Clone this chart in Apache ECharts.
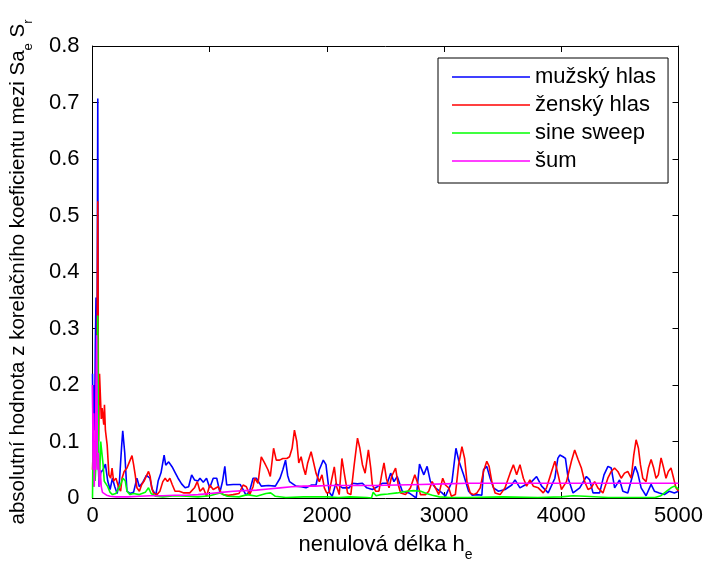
<!DOCTYPE html>
<html><head><meta charset="utf-8">
<script src="https://cdn.jsdelivr.net/npm/echarts@6/dist/echarts.min.js"></script>
<style>html,body{margin:0;padding:0;background:#fff}#c{width:706px;height:567px}</style>
</head><body><div id="c"></div>
<script>
const seriesNames = ['mužský hlas', 'ženský hlas', 'sine sweep', 'šum'];
const xTicks = [0, 1000, 2000, 3000, 4000, 5000];
const yTicks = [0, 0.1, 0.2, 0.3, 0.4, 0.5, 0.6, 0.7, 0.8];

const male = [[0,0.22],[6,0.06],[12,0.2],[18,0.12],[24,0.27],[30,0.355],[36,0.08],[45,0.707],[50,0.06],[56,0.02],[70,0.045],[90,0.05],[110,0.06],[130,0.03],[150,0.015],[170,0.035],[190,0.02],[210,0.008],[230,0.03],[248,0.09],[258,0.119],[275,0.08],[294,0.012],[320,0.008],[350,0.01],[379,0.035],[400,0.02],[430,0.028],[460,0.04],[490,0.035],[510,0.015],[540,0.005],[560,0.03],[585,0.045],[611,0.076],[625,0.058],[650,0.064],[680,0.055],[705,0.045],[730,0.035],[760,0.025],[790,0.018],[820,0.02],[846,0.041],[870,0.032],[900,0.03],[917,0.035],[945,0.028],[973,0.035],[1000,0.018],[1030,0.035],[1060,0.035],[1087,0.01],[1110,0.03],[1129,0.056],[1145,0.023],[1200,0.024],[1260,0.024],[1285,0.015],[1310,0.005],[1340,0.012],[1370,0.035],[1398,0.035],[1440,0.021],[1500,0.022],[1560,0.021],[1600,0.035],[1624,0.05],[1647,0.067],[1665,0.04],[1681,0.029],[1737,0.021],[1780,0.02],[1822,0.018],[1870,0.023],[1907,0.023],[1935,0.05],[1969,0.067],[1992,0.059],[2020,0.01],[2045,0.003],[2075,0.025],[2105,0.022],[2133,0.018],[2190,0.018],[2218,0.026],[2260,0.025],[2303,0.026],[2340,0.018],[2388,0.015],[2430,0.02],[2473,0.026],[2515,0.026],[2544,0.044],[2572,0.029],[2600,0.038],[2643,0.012],[2700,0.009],[2728,0.005],[2762,0.0],[2790,0.06],[2827,0.041],[2855,0.056],[2883,0.029],[2926,0.018],[2982,0.009],[3011,0.003],[3067,0.029],[3101,0.088],[3124,0.067],[3166,0.041],[3209,0.012],[3240,0.005],[3280,0.006],[3322,0.005],[3336,0.05],[3364,0.056],[3393,0.035],[3421,0.018],[3464,0.012],[3520,0.015],[3577,0.023],[3605,0.032],[3647,0.018],[3690,0.023],[3747,0.029],[3789,0.038],[3832,0.021],[3888,0.009],[3945,0.035],[3970,0.07],[3987,0.076],[4015,0.073],[4035,0.07],[4058,0.035],[4100,0.009],[4157,0.018],[4214,0.038],[4242,0.032],[4270,0.009],[4327,0.009],[4364,0.041],[4398,0.056],[4426,0.053],[4455,0.018],[4497,0.032],[4525,0.012],[4567,0.009],[4610,0.041],[4630,0.056],[4652,0.044],[4681,0.018],[4723,0.004],[4766,0.024],[4794,0.012],[4836,0.009],[4879,0.006],[4921,0.012],[4964,0.009],[5000,0.012]];

const female = [[0,0.05],[8,0.1],[15,0.03],[22,0.08],[30,0.15],[38,0.2],[45,0.525],[52,0.1],[60,0.22],[68,0.223],[75,0.14],[82,0.159],[90,0.16],[96,0.13],[102,0.165],[110,0.12],[125,0.094],[140,0.041],[155,0.035],[167,0.053],[180,0.03],[200,0.035],[224,0.018],[240,0.012],[252,0.035],[270,0.047],[294,0.053],[315,0.064],[337,0.075],[350,0.06],[365,0.04],[379,0.018],[400,0.012],[420,0.024],[440,0.03],[464,0.041],[478,0.047],[492,0.038],[505,0.018],[520,0.009],[550,0.006],[575,0.012],[600,0.029],[620,0.035],[640,0.029],[660,0.035],[680,0.024],[704,0.012],[740,0.012],[780,0.009],[830,0.009],[870,0.018],[894,0.029],[917,0.012],[945,0.018],[973,0.003],[1001,0.023],[1030,0.015],[1044,0.018],[1072,0.02],[1095,0.01],[1115,0.006],[1160,0.005],[1200,0.006],[1250,0.008],[1285,0.023],[1313,0.02],[1341,0.006],[1370,0.02],[1384,0.035],[1412,0.026],[1440,0.073],[1468,0.062],[1497,0.05],[1517,0.038],[1545,0.088],[1568,0.067],[1596,0.067],[1624,0.07],[1658,0.07],[1681,0.073],[1703,0.088],[1723,0.12],[1743,0.1],[1760,0.062],[1780,0.073],[1800,0.053],[1817,0.041],[1836,0.062],[1865,0.082],[1884,0.065],[1907,0.044],[1935,0.029],[1958,0.041],[1978,0.018],[1998,0.009],[2020,0.01],[2043,0.035],[2063,0.055],[2083,0.02],[2105,0.006],[2128,0.07],[2148,0.044],[2176,0.009],[2204,0.006],[2233,0.059],[2261,0.106],[2281,0.088],[2303,0.059],[2326,0.044],[2354,0.085],[2374,0.053],[2388,0.023],[2416,0.012],[2444,0.012],[2467,0.041],[2487,0.062],[2507,0.035],[2530,0.018],[2552,0.038],[2586,0.053],[2609,0.023],[2629,0.009],[2671,0.006],[2713,0.018],[2750,0.041],[2770,0.029],[2798,0.006],[2841,0.006],[2869,0.012],[2898,0.029],[2926,0.018],[2954,0.006],[2988,0.035],[3011,0.023],[3039,0.018],[3062,0.003],[3096,0.006],[3124,0.059],[3152,0.091],[3175,0.07],[3195,0.029],[3223,0.009],[3251,0.006],[3280,0.009],[3308,0.018],[3336,0.047],[3364,0.065],[3384,0.056],[3407,0.029],[3435,0.009],[3478,0.006],[3520,0.018],[3563,0.044],[3591,0.059],[3619,0.041],[3647,0.059],[3676,0.035],[3704,0.021],[3732,0.032],[3761,0.021],[3803,0.018],[3846,0.009],[3874,0.018],[3917,0.047],[3945,0.065],[3973,0.041],[4001,0.015],[4044,0.029],[4086,0.065],[4114,0.085],[4143,0.068],[4171,0.053],[4199,0.029],[4228,0.015],[4256,0.018],[4284,0.029],[4312,0.018],[4355,0.009],[4397,0.035],[4426,0.047],[4454,0.053],[4482,0.047],[4511,0.035],[4539,0.044],[4567,0.047],[4596,0.035],[4618,0.076],[4638,0.103],[4658,0.088],[4675,0.059],[4695,0.035],[4723,0.029],[4743,0.053],[4766,0.068],[4788,0.053],[4808,0.035],[4828,0.041],[4851,0.071],[4873,0.053],[4893,0.035],[4913,0.047],[4936,0.053],[4958,0.035],[4978,0.018],[5000,0.012]];

const sweep = [[0,0],[5,0.1],[10,0.02],[15,0.1],[22,0.03],[30,0.06],[38,0.15],[45,0.323],[52,0.05],[60,0.03],[70,0.1],[80,0.08],[90,0.06],[100,0.03],[115,0.029],[130,0.02],[150,0.01],[170,0.006],[200,0.008],[238,0.023],[260,0.035],[280,0.03],[294,0.012],[320,0.006],[350,0.008],[400,0.006],[450,0.01],[478,0.018],[500,0.008],[540,0.003],[600,0.002],[700,0.004],[800,0.003],[900,0.002],[1000,0.004],[1087,0.009],[1150,0.003],[1250,0.002],[1320,0.006],[1400,0.003],[1480,0.008],[1520,0.009],[1560,0.003],[1650,0.001],[1800,0.002],[2000,0.002],[2100,0.001],[2200,0.002],[2340,0.001],[2380,0.0],[2395,0.01],[2420,0.004],[2460,0.006],[2520,0.007],[2600,0.009],[2680,0.012],[2740,0.013],[2800,0.012],[2850,0.008],[2900,0.005],[2960,0.002],[3050,0.001],[3200,0.001],[3500,0.002],[3800,0.001],[4000,0.002],[4100,0.004],[4200,0.003],[4400,0.001],[4600,0.001],[4800,0.001],[4850,0.004],[4880,0.009],[4910,0.014],[4936,0.018],[4964,0.021],[4987,0.018],[5000,0.015]];

const noise = [[0,0.2],[5,0.05],[10,0.15],[15,0.02],[20,0.1],[25,0.05],[30,0.2],[36,0.288],[42,0.05],[50,0.08],[58,0.02],[66,0.05],[75,0.02],[85,0.01],[100,0.012],[120,0.005],[150,0.003],[200,0.002],[300,0.002],[400,0.003],[500,0.004],[600,0.004],[700,0.005],[800,0.005],[900,0.006],[1000,0.008],[1100,0.01],[1200,0.012],[1300,0.013],[1400,0.014],[1500,0.016],[1600,0.018],[1700,0.02],[1800,0.021],[1900,0.021],[2000,0.022],[2200,0.022],[2400,0.022],[2600,0.023],[2800,0.024],[3000,0.025],[3200,0.026],[3600,0.026],[4000,0.026],[4500,0.026],[5000,0.026]];

const colors = ['#0000ff', '#ff0000', '#00ff00', '#ff00ff'];
const datasets = [male, female, sweep, noise];
const FONT = 'Liberation Sans, Arial, Helvetica, sans-serif';

const chart = echarts.init(document.getElementById('c'), null, {renderer: 'canvas'});
const axisCommon = {
  type: 'value', splitLine: {show: false},
  axisLine: {show: true, onZero: false, lineStyle: {color: '#000', width: 1}},
  axisTick: {show: true, inside: true, length: 6, lineStyle: {color: '#000'}}
};
chart.setOption({
  animation: false,
  backgroundColor: '#fff',
  grid: {left: 92, right: 25, top: 46, bottom: 67, containLabel: false},
  xAxis: [
    Object.assign({}, axisCommon, {
      min: xTicks[0], max: xTicks[xTicks.length - 1], interval: xTicks[1] - xTicks[0],
      position: 'bottom',
      axisLabel: {color: '#000', fontSize: 22, fontFamily: FONT, margin: 7, formatter: v => String(v)},
      name: '{n|nenulová délka h}{sub|e}', nameLocation: 'middle', nameGap: 30,
      nameTextStyle: {color: '#000', fontFamily: FONT, rich: {
        n: {fontSize: 22, fontFamily: FONT, color: '#000', lineHeight: 34, verticalAlign: 'middle'},
        sub: {fontSize: 14, fontFamily: FONT, color: '#000', lineHeight: 14, verticalAlign: 'bottom'}
      }}
    }),
    Object.assign({}, axisCommon, {
      min: xTicks[0], max: xTicks[xTicks.length - 1], interval: xTicks[1] - xTicks[0],
      position: 'top', axisLabel: {show: false}
    })
  ],
  yAxis: [
    Object.assign({}, axisCommon, {
      min: yTicks[0], max: yTicks[yTicks.length - 1], interval: 0.1,
      position: 'left',
      axisLabel: {color: '#000', fontSize: 22, fontFamily: FONT, margin: 13, formatter: v => String(Math.round(v * 10) / 10)},
      name: '{n|absolutní hodnota z korelačního koeficientu mezi Sa}{sub|e}{n| S}{sub|r}',
      nameLocation: 'middle', nameGap: 58, nameRotate: 90,
      nameTextStyle: {color: '#000', fontFamily: FONT, rich: {
        n: {fontSize: 20.5, fontFamily: FONT, color: '#000', lineHeight: 32, verticalAlign: 'middle'},
        sub: {fontSize: 13, fontFamily: FONT, color: '#000', lineHeight: 13, verticalAlign: 'bottom'}
      }}
    }),
    Object.assign({}, axisCommon, {
      min: yTicks[0], max: yTicks[yTicks.length - 1], interval: 0.1,
      position: 'right', axisLabel: {show: false}
    })
  ],
  legend: {
    show: true, orient: 'vertical', left: 438, top: 58,
    data: seriesNames, icon: 'rect',
    backgroundColor: '#fff', borderColor: '#000', borderWidth: 1,
    padding: [8, 12, 11, 14], itemGap: 6, itemWidth: 78, itemHeight: 1.5,
    textStyle: {color: '#000', fontSize: 22, fontFamily: FONT, lineHeight: 22}
  },
  series: datasets.map((d, i) => ({
    name: seriesNames[i], type: 'line', data: d,
    xAxisIndex: 0, yAxisIndex: 0,
    symbol: 'none', showSymbol: false, sampling: null,
    lineStyle: {color: colors[i], width: 1.6},
    itemStyle: {color: colors[i]},
    emphasis: {disabled: true},
    z: 2 + i
  }))
});
</script>
</body></html>
